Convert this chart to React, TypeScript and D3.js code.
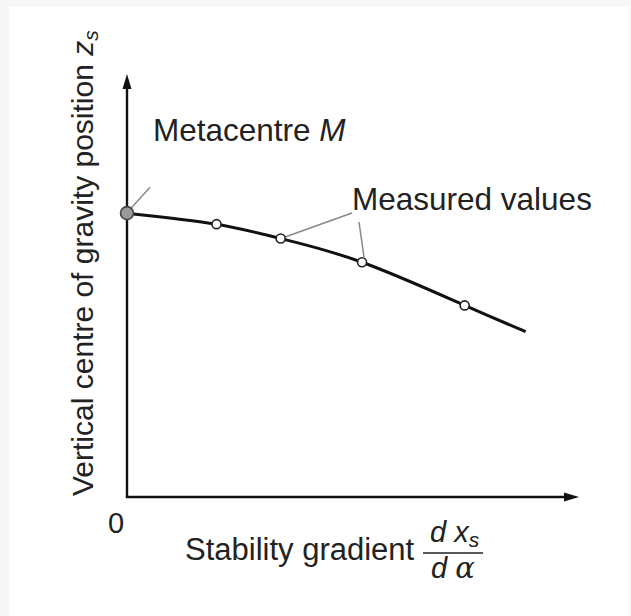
import React from "react";
import * as d3 from "d3";

// Data (arbitrary units)
const curveX = [0, 1.98, 3.4, 5.2, 7.47, 8.82];
const curveY = [6.71, 6.45, 6.11, 5.55, 4.53, 3.91];
const measuredX = [1.98, 3.4, 5.2, 7.47];
const measuredY = [6.45, 6.11, 5.55, 4.53];
const metacentre = [0, 6.71];
const zeroLabel = "0";
const xTitle = "Stability gradient";
const yTitle = "Vertical centre of gravity position";
const labelM = "Metacentre";
const labelMeasured = "Measured values";

const W = 631;
const H = 616;
const FONT = "'Liberation Sans', Arial, Helvetica, sans-serif";

export default function App() {
  const x = d3.scaleLinear().domain([0, 10]).range([127, 579]);
  const y = d3.scaleLinear().domain([0, 10]).range([497, 74]);
  const line = d3
    .line<[number, number]>()
    .x((d) => x(d[0]))
    .y((d) => y(d[1]))
    .curve(d3.curveNatural);
  const pts: [number, number][] = curveX.map((v, i) => [v, curveY[i]]);

  const mx = x(metacentre[0]);
  const my = y(metacentre[1]);
  const p2 = [x(measuredX[1]), y(measuredY[1])];
  const p3 = [x(measuredX[2]), y(measuredY[2])];

  const x0 = x(0);
  const y0 = y(0);
  const xEnd = x(10);
  const yEnd = y(10);

  return (
    <svg
      width={W}
      height={H}
      style={{ position: "absolute", left: 0, top: 0, display: "block" }}
      fontFamily={FONT}
    >
      <rect x={0} y={0} width={W} height={H} fill="#f7f7f7" />
      <rect x={9} y={7} width={W - 11} height={H - 7} fill="#ffffff" />

      {/* axes */}
      <line x1={x0} y1={y0} x2={x0} y2={yEnd + 12} stroke="#111" strokeWidth={2.4} />
      <path d={`M${x0},${yEnd} L${x0 - 4.5},${yEnd + 15} L${x0 + 4.5},${yEnd + 15} Z`} fill="#111" />
      <line x1={x0 - 1.2} y1={y0} x2={xEnd - 12} y2={y0} stroke="#111" strokeWidth={2.4} />
      <path d={`M${xEnd},${y0} L${xEnd - 15},${y0 - 4.5} L${xEnd - 15},${y0 + 4.5} Z`} fill="#111" />

      {/* leader lines */}
      <line x1={mx + 4} y1={my - 5} x2={mx + 23} y2={my - 26} stroke="#888" strokeWidth={1.5} />
      <line x1={352} y1={213} x2={p2[0] + 3} y2={p2[1] - 1} stroke="#888" strokeWidth={1.5} />
      <line x1={359} y1={222} x2={p3[0] + 2} y2={p3[1] - 5} stroke="#888" strokeWidth={1.5} />

      {/* curve */}
      <path d={line(pts) || ""} fill="none" stroke="#111" strokeWidth={3} />

      {/* points */}
      {measuredX.map((v, i) => (
        <circle key={i} cx={x(v)} cy={y(measuredY[i])} r={4.5} fill="#fff" stroke="#222" strokeWidth={1.6} />
      ))}
      <circle cx={mx} cy={my} r={6.5} fill="#9a9a9a" stroke="#444" strokeWidth={1.6} />

      {/* labels */}
      <text x={153} y={141} fontSize={31.5} fill="#222">
        {labelM} <tspan fontStyle="italic">M</tspan>
      </text>
      <text x={352} y={210} fontSize={31.5} fill="#222">
        {labelMeasured}
      </text>
      <text x={108} y={533} fontSize={29} fill="#222">
        {zeroLabel}
      </text>
      <text x={185} y={560} fontSize={31} fill="#222">
        {xTitle}
      </text>
      {/* fraction d x_s / d alpha */}
      <text x={430} y={542} fontSize={29} fontStyle="italic" fill="#222">
        d <tspan>x</tspan>
        <tspan fontSize={21} dy={5}>s</tspan>
      </text>
      <line x1={423} y1={553} x2={483} y2={553} stroke="#222" strokeWidth={1.6} />
      <text x={431} y={578} fontSize={29} fontStyle="italic" fill="#222">
        d <tspan fontFamily="'DejaVu Serif', serif">α</tspan>
      </text>

      <text transform={`translate(93,496) rotate(-90)`} fontSize={30} fill="#222">
        {yTitle} <tspan fontStyle="italic">z</tspan>
        <tspan fontStyle="italic" fontSize={21} dy={5}>s</tspan>
      </text>
    </svg>
  );
}
